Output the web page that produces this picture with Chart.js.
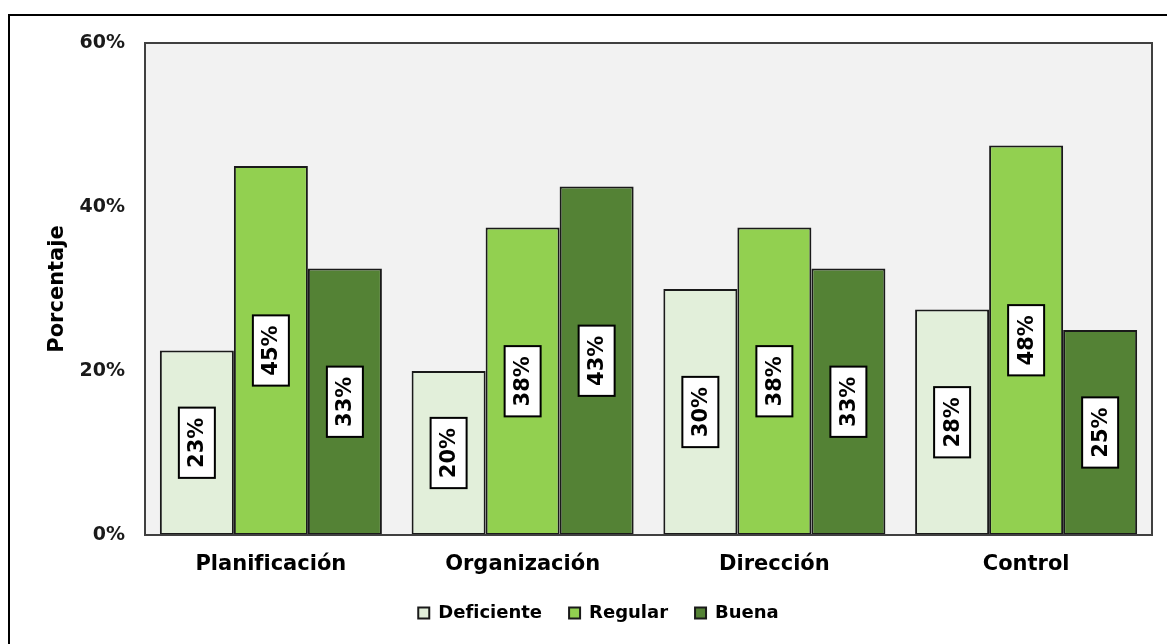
<!DOCTYPE html>
<html lang="es">
<head>
<meta charset="utf-8">
<title>Porcentaje por dimensión</title>
<script src="https://cdn.jsdelivr.net/npm/chart.js@4.4.1/dist/chart.umd.min.js"></script>
<style>
  html, body { margin: 0; padding: 0; background: #ffffff; }
  #chart { display: block; }
</style>
</head>
<body>
<canvas id="chart" width="1167" height="644"></canvas>
<script>
// Datos
const categorias = ["Planificación", "Organización", "Dirección", "Control"];
const deficiente = [22.5, 20, 30, 27.5];
const regular = [45, 37.5, 37.5, 47.5];
const buena = [32.5, 42.5, 32.5, 25];
const ticksY = [0, 20, 40, 60];

const FONT = "'DejaVu Sans', 'Liberation Sans', Arial, sans-serif";

// Marco exterior y fondo/borde del área de trazado
const marcoPlugin = {
  id: "marco",
  beforeDraw(chart) {
    const ctx = chart.ctx;
    const a = chart.chartArea;
    ctx.save();
    ctx.fillStyle = "#000000";
    ctx.fillRect(8, 14, 2, chart.height - 14);
    ctx.fillRect(8, 14, chart.width - 8, 2);
    ctx.fillStyle = "#f2f2f2";
    ctx.fillRect(a.left, a.top, a.right - a.left, a.bottom - a.top);
    ctx.restore();
  },
  afterDraw(chart) {
    const ctx = chart.ctx;
    const a = chart.chartArea;
    ctx.save();
    ctx.strokeStyle = "#404040";
    ctx.lineWidth = 2;
    ctx.strokeRect(a.left, a.top, a.right - a.left, a.bottom - a.top);
    ctx.restore();
  }
};

// Etiquetas de valor verticales dentro de cada barra
const etiquetasPlugin = {
  id: "etiquetas",
  afterDatasetsDraw(chart) {
    const ctx = chart.ctx;
    ctx.save();
    ctx.font = "bold 21px " + FONT;
    chart.data.datasets.forEach((ds, i) => {
      const meta = chart.getDatasetMeta(i);
      meta.data.forEach((bar, j) => {
        const texto = Math.round(ds.data[j]) + "%";
        const w = ctx.measureText(texto).width;
        const cy = (bar.y + bar.base) / 2;
        ctx.save();
        ctx.translate(bar.x, cy);
        ctx.rotate(-Math.PI / 2);
        const largo = w + 20;
        const grueso = 36;
        ctx.fillStyle = "#ffffff";
        ctx.fillRect(-largo / 2, -grueso / 2, largo, grueso);
        ctx.strokeStyle = "#000000";
        ctx.lineWidth = 2;
        ctx.strokeRect(-largo / 2, -grueso / 2, largo, grueso);
        ctx.fillStyle = "#000000";
        ctx.textAlign = "center";
        ctx.textBaseline = "middle";
        ctx.fillText(texto, 0, 1);
        ctx.restore();
      });
    });
    ctx.restore();
  }
};

new Chart(document.getElementById("chart"), {
  type: "bar",
  data: {
    labels: categorias,
    datasets: [
      { label: "Deficiente", data: deficiente, backgroundColor: "#e2efda" },
      { label: "Regular", data: regular, backgroundColor: "#92d050" },
      { label: "Buena", data: buena, backgroundColor: "#548235" }
    ]
  },
  options: {
    responsive: false,
    animation: false,
    layout: { padding: { top: 43, left: 45, right: 15, bottom: 12 } },
    datasets: {
      bar: {
        categoryPercentage: 0.882,
        barPercentage: 1,
        borderColor: "#1a1a1a",
        borderWidth: 2,
        borderSkipped: false
      }
    },
    plugins: {
      legend: {
        position: "bottom",
        labels: {
          boxWidth: 11,
          boxHeight: 11,
          padding: 27,
          color: "#000000",
          font: { family: FONT, size: 18, weight: "bold" }
        }
      },
      tooltip: { enabled: false }
    },
    scales: {
      x: {
        grid: { display: false, drawTicks: false },
        border: { display: false },
        ticks: {
          padding: 17,
          color: "#000000",
          font: { family: FONT, size: 21, weight: "bold" }
        },
        afterFit(scale) { scale.height = 42; }
      },
      y: {
        min: 0,
        max: 60,
        grid: { display: false, drawTicks: false },
        border: { display: false },
        afterBuildTicks(scale) {
          scale.ticks = ticksY.map(v => ({ value: v }));
        },
        ticks: {
          padding: 20,
          color: "#1a1a1a",
          font: { family: FONT, size: 19, weight: "bold" },
          callback: v => v + "%"
        },
        title: {
          display: true,
          text: "Porcentaje",
          color: "#000000",
          padding: 0,
          font: { family: FONT, size: 21, weight: "bold" }
        },
        afterFit(scale) { scale.width = 100; }
      }
    }
  },
  plugins: [marcoPlugin, etiquetasPlugin]
});
</script>
</body>
</html>
